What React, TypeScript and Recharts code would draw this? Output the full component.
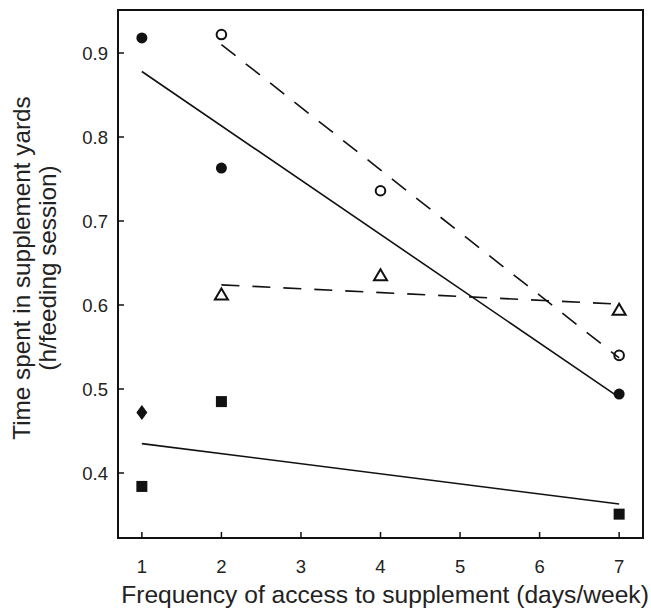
import React from "react";
import { ComposedChart, XAxis, YAxis, Scatter, ReferenceLine, ReferenceArea } from "recharts";

const xTicks = [1, 2, 3, 4, 5, 6, 7];
const yTicks = [0.4, 0.5, 0.6, 0.7, 0.8, 0.9];
const xDomain = [0.7, 7.3];
const yDomain = [0.3226, 0.9512];

const filledCircle = [
  { x: 1, y: 0.918 },
  { x: 2, y: 0.763 },
  { x: 7, y: 0.494 },
];
const openCircle = [
  { x: 2, y: 0.922 },
  { x: 4, y: 0.736 },
  { x: 7, y: 0.54 },
];
const openTriangle = [
  { x: 2, y: 0.613 },
  { x: 4, y: 0.636 },
  { x: 7, y: 0.595 },
];
const filledSquare = [
  { x: 1, y: 0.384 },
  { x: 2, y: 0.485 },
  { x: 7, y: 0.351 },
];
const filledDiamond = [{ x: 1, y: 0.472 }];

const fitFilledCircle = [
  { x: 1, y: 0.878 },
  { x: 7, y: 0.49 },
];
const fitOpenCircle = [
  { x: 2, y: 0.91 },
  { x: 7, y: 0.537 },
];
const fitTriangle = [
  { x: 2, y: 0.624 },
  { x: 7, y: 0.601 },
];
const fitSquare = [
  { x: 1, y: 0.435 },
  { x: 7, y: 0.363 },
];

const FONT = "'Liberation Sans', Arial, Helvetica, sans-serif";
const TEXT = "#222";

const FilledCircleShape = (p: any) => <circle cx={p.cx} cy={p.cy} r={5.5} fill="#111" />;
const OpenCircleShape = (p: any) => (
  <circle cx={p.cx} cy={p.cy} r={4.8} fill="none" stroke="#111" strokeWidth={2} />
);
const TriangleShape = (p: any) => (
  <path
    d={`M${p.cx},${p.cy - 5.5} L${p.cx + 6.5},${p.cy + 5.5} L${p.cx - 6.5},${p.cy + 5.5} Z`}
    fill="none"
    stroke="#111"
    strokeWidth={2}
    strokeLinejoin="miter"
  />
);
const SquareShape = (p: any) => <rect x={p.cx - 5.5} y={p.cy - 5.5} width={11} height={11} fill="#111" />;
const DiamondShape = (p: any) => (
  <path d={`M${p.cx},${p.cy - 7.5} L${p.cx + 5.5},${p.cy} L${p.cx},${p.cy + 7.5} L${p.cx - 5.5},${p.cy} Z`} fill="#111" />
);

const YLabel = () => (
  <g>
    <text
      x={30}
      y={268}
      transform="rotate(-90 30 268)"
      textAnchor="middle"
      fontFamily={FONT}
      fontSize={24.3}
      fill={TEXT}
    >
      Time spent in supplement yards
    </text>
    <text
      x={56}
      y={268}
      transform="rotate(-90 56 268)"
      textAnchor="middle"
      fontFamily={FONT}
      fontSize={24.3}
      fill={TEXT}
    >
      (h/feeding session)
    </text>
  </g>
);

const XLabel = () => (
  <text x={385} y={603} textAnchor="middle" fontFamily={FONT} fontSize={24.6} fill={TEXT}>
    Frequency of access to supplement (days/week)
  </text>
);

const seg = (arr: { x: number; y: number }[]) => arr.map((d) => ({ x: d.x, y: d.y }));

export default function App() {
  return (
    <div style={{ position: "absolute", left: 0, top: 0, background: "#fff" }}>
      <ComposedChart width={651} height={609} margin={{ top: 10, right: 8, bottom: 0, left: 0 }}>
        <XAxis
          dataKey="x"
          type="number"
          domain={xDomain}
          ticks={xTicks}
          allowDataOverflow
          height={71}
          tickSize={-6}
          tickMargin={28}
          axisLine={{ stroke: "#111", strokeWidth: 2 }}
          tickLine={{ stroke: "#111", strokeWidth: 1.5 }}
          tick={{ fill: TEXT, fontSize: 18.5, fontFamily: FONT }}
          label={{ content: () => <XLabel /> }}
        />
        <YAxis
          dataKey="y"
          type="number"
          domain={yDomain}
          ticks={yTicks}
          allowDataOverflow
          width={118}
          tickSize={-6}
          tickMargin={16}
          tickFormatter={(v: number) => v.toFixed(1)}
          axisLine={{ stroke: "#111", strokeWidth: 2 }}
          tickLine={{ stroke: "#111", strokeWidth: 1.5 }}
          tick={{ fill: TEXT, fontSize: 18.5, fontFamily: FONT }}
          label={{ content: () => <YLabel /> }}
        />
        <ReferenceArea
          x1={xDomain[0]}
          x2={xDomain[1]}
          y1={yDomain[0]}
          y2={yDomain[1]}
          fill="none"
          fillOpacity={0}
          stroke="#111"
          strokeWidth={2}
        />
        <ReferenceLine segment={seg(fitFilledCircle)} stroke="#111" strokeWidth={1.6} />
        <ReferenceLine segment={seg(fitOpenCircle)} stroke="#111" strokeWidth={1.6} strokeDasharray="18 13" />
        <ReferenceLine segment={seg(fitTriangle)} stroke="#111" strokeWidth={1.6} strokeDasharray="18 13" />
        <ReferenceLine segment={seg(fitSquare)} stroke="#111" strokeWidth={1.6} />
        <Scatter data={filledCircle} shape={FilledCircleShape} isAnimationActive={false} />
        <Scatter data={openCircle} shape={OpenCircleShape} isAnimationActive={false} />
        <Scatter data={openTriangle} shape={TriangleShape} isAnimationActive={false} />
        <Scatter data={filledSquare} shape={SquareShape} isAnimationActive={false} />
        <Scatter data={filledDiamond} shape={DiamondShape} isAnimationActive={false} />
      </ComposedChart>
    </div>
  );
}
